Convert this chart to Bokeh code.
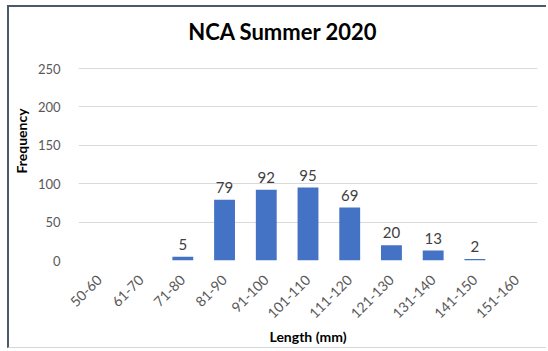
from math import pi

from bokeh.core.properties import value
from bokeh.embed import file_html
from bokeh.models import ColumnDataSource, Range1d, FixedTicker
from bokeh.plotting import figure
from bokeh.resources import INLINE

# Length classes (mm) and number of fish caught in each
length_bins = ["50-60", "61-70", "71-80", "81-90", "91-100", "101-110",
               "111-120", "121-130", "131-140", "141-150", "151-160"]
frequency = [0, 0, 5, 79, 92, 95, 69, 20, 13, 2, 0]
y_ticks = [0, 50, 100, 150, 200, 250]
chart_title = "NCA Summer 2020"

FONT = "Lato"
BAR_BLUE = "#4472C4"

bars = ColumnDataSource(data=dict(bin=length_bins, freq=frequency))
labelled = [(b, f) for b, f in zip(length_bins, frequency) if f > 0]
labels = ColumnDataSource(data=dict(
    bin=[b for b, _ in labelled],
    freq=[f for _, f in labelled],
    txt=[str(f) for _, f in labelled],
))

# The frame runs up to the top of the chart so the title can sit inside it;
# the value axis only ticks 0-250.
p = figure(
    x_range=length_bins,
    y_range=Range1d(0, 311.2),
    width=539, height=343,
    output_backend="svg",
    toolbar_location=None,
    min_border_left=66, min_border_right=11,
    min_border_top=14, min_border_bottom=90,
)
p.styles = {
    "margin-left": "7px",
    "margin-top": "5px",
    "border-left": "2px solid #4b596d",
    "border-top": "2px solid #4b596d",
    "border-bottom": "1px solid #d3d8df",
}

p.vbar(x="bin", top="freq", width=0.5, source=bars,
       fill_color=BAR_BLUE, line_color=None)

p.text(x="bin", y="freq", text="txt", source=labels,
       text_align="center", text_baseline="bottom", y_offset=-7,
       text_font=value(FONT), text_font_size="15px", text_color="#404040")

# Chart title, centred over the whole chart area
p.text(x=[len(length_bins) / 2], y=[298.2], text=[chart_title],
       x_offset=-25, text_align="center", text_baseline="middle",
       text_font=value(FONT), text_font_size="22px",
       text_font_style="bold", text_color="#000000")

# Frame and grid
p.outline_line_color = None
p.background_fill_color = "white"
p.border_fill_color = "white"
p.xgrid.grid_line_color = None
p.ygrid.grid_line_color = "#d9d9d9"
p.ygrid.grid_line_width = 1

# Y axis
p.yaxis.ticker = FixedTicker(ticks=y_ticks)
p.yaxis.axis_line_color = None
p.yaxis.major_tick_line_color = None
p.yaxis.minor_tick_line_color = None
p.yaxis.major_label_text_font = FONT
p.yaxis.major_label_text_font_size = "13px"
p.yaxis.major_label_text_color = "#595959"
p.yaxis.major_label_standoff = 12
p.yaxis.axis_label = "Frequency"
p.yaxis.axis_label_text_font = FONT
p.yaxis.axis_label_text_font_size = "14px"
p.yaxis.axis_label_text_font_style = "bold"
p.yaxis.axis_label_text_color = "#000000"
p.yaxis.axis_label_standoff = 5

# X axis
p.xaxis.axis_line_color = None
p.xaxis.major_tick_line_color = None
p.xaxis.major_tick_out = 0
p.xaxis.major_label_orientation = pi / 4
p.xaxis.major_label_text_font = FONT
p.xaxis.major_label_text_font_size = "14px"
p.xaxis.major_label_text_color = "#595959"
p.xaxis.major_label_standoff = 17
p.xaxis.axis_label = "Length (mm)"
p.xaxis.axis_label_text_font = FONT
p.xaxis.axis_label_text_font_size = "14px"
p.xaxis.axis_label_text_font_style = "bold"
p.xaxis.axis_label_text_color = "#000000"
p.xaxis.axis_label_standoff = 2

open("out.html", "w").write(file_html(p, INLINE))
